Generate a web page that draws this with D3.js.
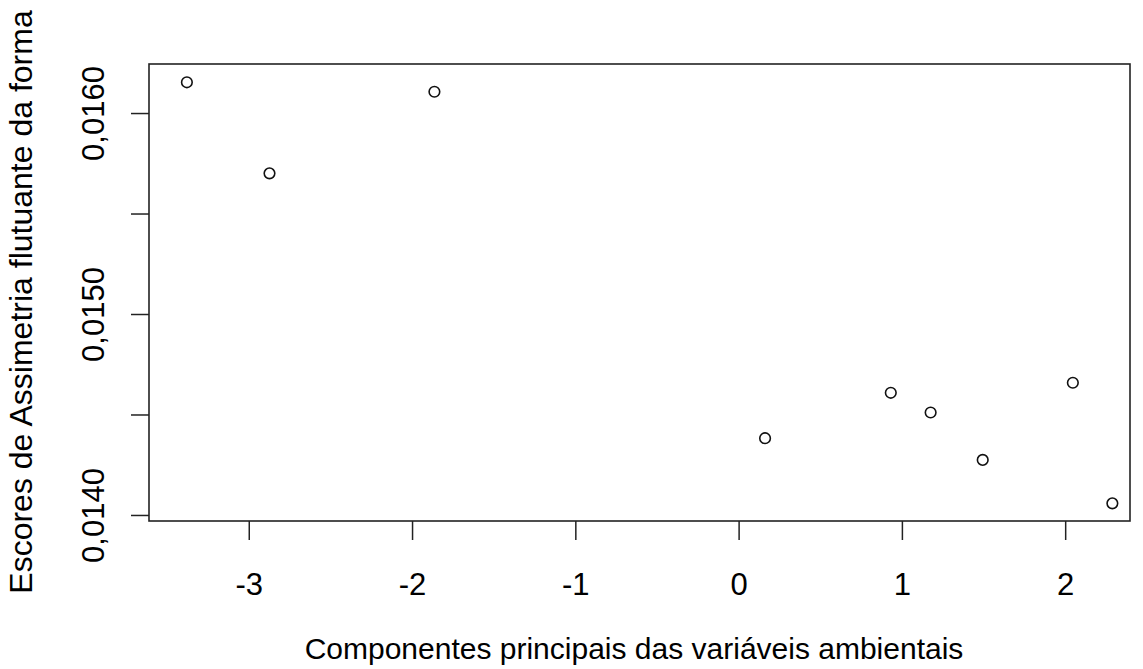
<!DOCTYPE html>
<html>
<head>
<meta charset="utf-8">
<script src="https://cdn.jsdelivr.net/npm/d3@7"></script>
<style>
  body { margin: 0; background: #fff; }
  text { font-family: "Liberation Sans", Arial, sans-serif; fill: #000; }
</style>
</head>
<body>
<svg id="chart"></svg>
<script>
// data
const componente = [-3.379, -2.873, -1.863, 0.162, 0.932, 1.176, 1.495, 2.047, 2.289];
const escores = [0.016153, 0.015700, 0.016106, 0.014382, 0.014608, 0.014510, 0.014274, 0.014658, 0.014058];
const xTicks = [-3, -2, -1, 0, 1, 2];
const yTicks = [0.0140, 0.0145, 0.0150, 0.0155, 0.0160];
const yTickLabels = ["0,0140", "", "0,0150", "", "0,0160"];

var width = 1143;
var height = 669;
// plot box (names avoid window.top)
var boxLeft = 149, boxRight = 1130, boxTop = 64, boxBottom = 521;

const svg = d3.select("#chart").attr("width", width).attr("height", height);

var x = d3.scaleLinear().domain([-3.611, 2.397]).range([boxLeft, boxRight]);
var y = d3.scaleLinear().domain([0.01397, 0.016244]).range([boxBottom, boxTop]);

// ! x axis
var gx = svg.append("g")
  .attr("transform", "translate(0," + boxBottom + ")")
  .call(d3.axisBottom(x).tickValues(xTicks).tickSize(19).tickFormat(d3.format("d")));
gx.select(".domain").remove();
gx.selectAll("line").attr("stroke", "#222").attr("stroke-width", 1.5);
gx.selectAll("text")
  .attr("y", 74)
  .attr("dy", null)
  .style("font-size", "31px")
  .text((d) => String(d));

// ! y axis
var gy = svg.append("g")
  .attr("transform", "translate(" + boxLeft + ",0)")
  .call(d3.axisLeft(y).tickValues(yTicks).tickSize(18)
    .tickFormat((d, i) => yTickLabels[i]));
gy.select(".domain").remove();
gy.selectAll("line").attr("stroke", "#222").attr("stroke-width", 1.5);
gy.selectAll("text")
  .attr("x", null)
  .attr("dy", null)
  .attr("text-anchor", "middle")
  .attr("transform", "translate(-45,0) rotate(-90)")
  .style("font-size", "31px");

// box
svg.append("rect")
  .attr("x", boxLeft)
  .attr("y", boxTop)
  .attr("width", boxRight - boxLeft)
  .attr("height", boxBottom - boxTop)
  .attr("fill", "none")
  .attr("stroke", "#222")
  .attr("stroke-width", 1.6);

// points
svg.append("g")
  .selectAll("circle")
  .data(componente)
  .enter()
  .append("circle")
  .attr("cx", (d) => x(d))
  .attr("cy", (d, i) => y(escores[i]))
  .attr("r", 5.3)
  .attr("fill", "none")
  .attr("stroke", "#111")
  .attr("stroke-width", 1.6);

// axis titles
svg.append("text")
  .attr("x", 634)
  .attr("y", 659)
  .attr("text-anchor", "middle")
  .style("font-size", "30px")
  .text("Componentes principais das variáveis ambientais");

svg.append("text")
  .attr("transform", "translate(32,302) rotate(-90)")
  .attr("text-anchor", "middle")
  .style("font-size", "32px")
  .text("Escores de Assimetria flutuante da forma");
</script>
</body>
</html>
